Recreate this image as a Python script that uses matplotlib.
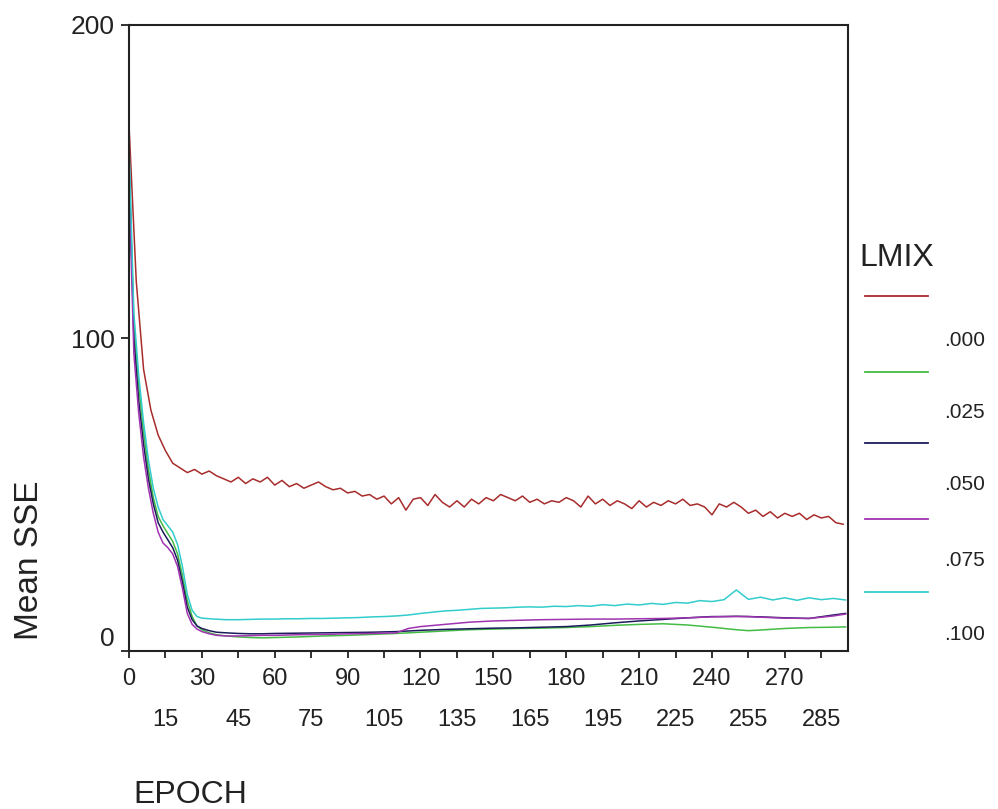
import matplotlib
matplotlib.use('Agg')
import matplotlib.pyplot as plt
from matplotlib.lines import Line2D
from matplotlib.transforms import ScaledTranslation
import numpy as np

plt.rcParams['font.family'] = ['Liberation Sans', 'DejaVu Sans']

# Red series (LMIX .000), every 3 epochs
red_epochs = np.arange(0, 297, 3)
red_sse = [168, 118, 90, 77, 69, 64, 60, 58.5, 57, 58,
           56.5, 57.5, 56, 55, 54, 55.5, 53.5, 55, 54, 55.5,
           53, 54.5, 52.5, 53.5, 52, 53, 54, 52.5, 51.5, 52,
           50.5, 51, 49.5, 50, 48.5, 49.5, 47, 49, 45, 48.5,
           49, 46.5, 50, 47.5, 46, 48, 46, 48.5, 47, 49,
           48, 50, 49, 48, 49.5, 47.5, 48.5, 47, 48, 47.5,
           49, 48, 46, 49.5, 47, 48.5, 46.5, 48, 47, 45.5,
           48, 46, 47.5, 46.5, 48, 47, 48.5, 46.5, 47, 46,
           43.5, 47, 46, 47.5, 46, 44, 45, 43, 44.5, 42.5,
           44, 43, 44, 42, 43.5, 42.5, 43, 41, 40.5]

# Low series (LMIX .025 / .050 / .075)
low_epochs = [0, 2, 4, 6, 8, 10, 12, 14, 16, 18,
              20, 22, 24, 26, 28, 30, 33, 36, 40, 45,
              50, 55, 60, 70, 80, 90, 100, 110, 115, 120,
              130, 140, 150, 160, 170, 180, 190, 200, 210, 220,
              230, 240, 245, 250, 255, 260, 270, 280, 290, 295]
green_sse = [155, 105, 85, 70, 58, 49, 43, 40, 37.5, 35,
             31, 24, 16, 11, 8, 6.8, 5.8, 5.2, 4.8, 4.5,
             4.3, 4.2, 4.3, 4.5, 4.8, 5, 5.3, 5.6, 5.8, 6,
             6.4, 6.8, 7, 7.2, 7.3, 7.5, 7.8, 8.2, 8.5, 8.7,
             8.3, 7.6, 7.2, 6.8, 6.5, 6.7, 7.2, 7.5, 7.6, 7.7]
navy_sse = [158, 100, 80, 66, 55, 47, 41, 38, 35.5, 33,
            29, 22, 14, 10, 8, 7.2, 6.5, 6, 5.8, 5.6,
            5.5, 5.5, 5.6, 5.7, 5.8, 5.9, 6, 6.2, 6.4, 6.6,
            6.9, 7.1, 7.3, 7.4, 7.6, 7.8, 8.3, 9, 9.6, 10.1,
            10.6, 11, 11, 11.1, 11, 10.9, 10.6, 10.4, 11.5, 12]
purple_sse = [150, 95, 76, 62, 52, 44, 38, 34.5, 33, 31,
              27, 20, 12, 8.5, 7, 6.2, 5.5, 5, 4.8, 4.8,
              4.9, 5, 5, 5.2, 5.3, 5.5, 5.6, 5.8, 7.2, 7.8,
              8.5, 9.2, 9.6, 9.8, 10, 10.1, 10.2, 10.2, 10.3, 10.4,
              10.6, 10.9, 11, 11, 11, 10.8, 10.5, 10.4, 11.2, 11.8]

# Cyan series (LMIX .100)
cyan_epochs = list(range(0, 30, 2)) + list(range(30, 300, 5))
cyan_sse = [162, 108, 88, 73, 61, 52, 46, 42, 40, 38, 34, 27, 18, 13, 11,
            10.5, 10.2, 10, 10, 10.1, 10.2, 10.2, 10.3, 10.3, 10.4,
            10.4, 10.5, 10.6, 10.7, 10.9, 11, 11.2, 11.5, 12, 12.4,
            12.8, 13, 13.3, 13.6, 13.7, 13.8, 14, 14.1, 14, 14.3,
            14.2, 14.5, 14.3, 14.8, 14.5, 15, 14.7, 15.2, 14.9, 15.5,
            15.3, 16.1, 15.8, 16.4, 19.5, 16.5, 17.2, 16.3, 17, 16.2,
            17, 16.4, 16.8, 16.3]

legend_labels = ['.000', '.025', '.050', '.075', '.100']
colors = ['#a82c2c', '#44bb44', '#1c1c5c', '#a033b0', '#33cccc']

fig = plt.figure(figsize=(9.98, 8.09), dpi=100)
ax = fig.add_axes([129 / 998, 1 - 651 / 809, (848 - 129) / 998, (651 - 25) / 809])

series = [(red_epochs, red_sse), (low_epochs, green_sse), (low_epochs, navy_sse),
          (low_epochs, purple_sse), (cyan_epochs, cyan_sse)]
for (x, y), c in zip(series, colors):
    ax.plot(x, y, color=c, linewidth=1.1)

ax.set_xlim(0, 296)
ax.set_ylim(0, 200)

text_color = '#222222'
for s in ax.spines.values():
    s.set_color(text_color)
    s.set_linewidth(1.5)

ax.set_yticks([0, 100, 200])
ax.set_yticklabels(['0', '100', '200'])
ax.tick_params(axis='y', direction='out', length=6, width=1.3, pad=4,
               labelsize=19, colors=text_color)
# "0" label sits a bit above the axis line
zero_lbl = ax.get_yticklabels()[0]
zero_lbl.set_transform(zero_lbl.get_transform() + ScaledTranslation(0, 15 / 100, fig.dpi_scale_trans))

xt = list(range(0, 286, 15))
ax.set_xticks(xt)
ax.set_xticklabels([str(v) for v in xt])
ax.tick_params(axis='x', direction='out', length=5, width=1.3, pad=7,
               labelsize=17, colors=text_color)
for i, lbl in enumerate(ax.get_xticklabels()):
    if i % 2 == 1:
        lbl.set_transform(lbl.get_transform() + ScaledTranslation(0, -41 / 100, fig.dpi_scale_trans))

fig.text(30 / 998, 1 - 560 / 809, 'Mean SSE', rotation=90, ha='center', va='center',
         fontsize=24, color=text_color)
fig.text(133 / 998, 1 - 795 / 809, 'EPOCH', ha='left', va='center',
         fontsize=23, color=text_color)

# legend
fig.text(859 / 998, 1 - 258 / 809, 'LMIX', ha='left', va='center', fontsize=23, color=text_color)
line_y = [296, 372, 443, 519, 592]
label_y = [340, 412, 484, 560, 634]
for c, ly, lab, ty in zip(colors, line_y, legend_labels, label_y):
    fig.add_artist(Line2D([865 / 998, 928 / 998], [1 - ly / 809, 1 - ly / 809],
                          transform=fig.transFigure, color=c, linewidth=1.3))
    fig.text(944 / 998, 1 - ty / 809, lab, ha='left', va='center', fontsize=15, color=text_color)

fig.savefig('out.png', dpi=100)
